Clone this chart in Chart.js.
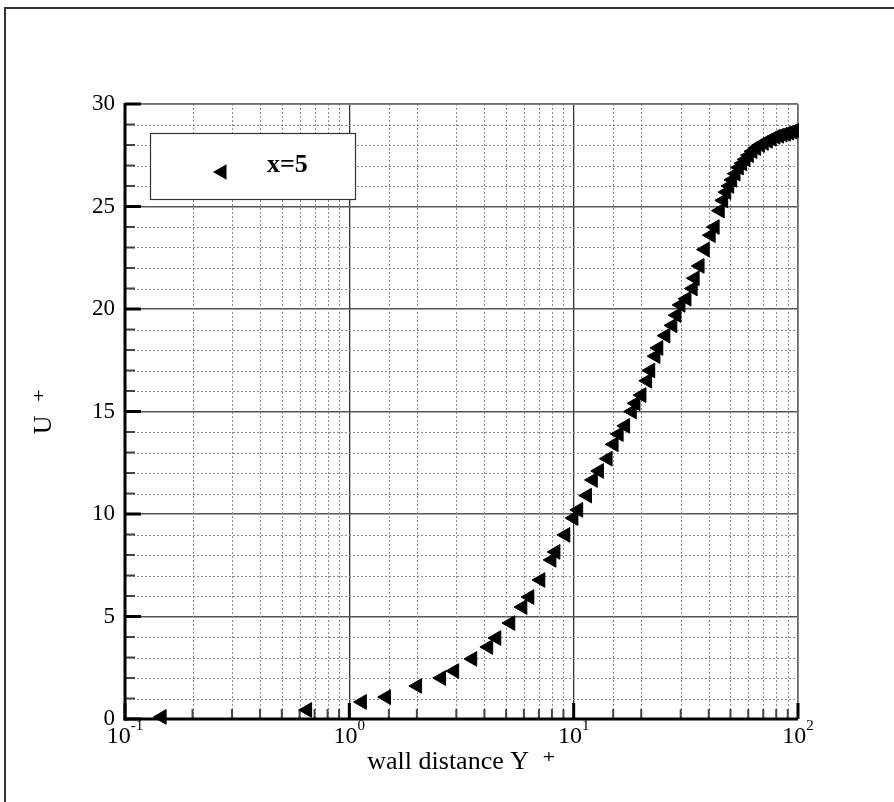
<!DOCTYPE html>
<html><head><meta charset="utf-8">
<script src="https://cdn.jsdelivr.net/npm/chart.js@4/dist/chart.umd.min.js"></script>
<style>html,body{margin:0;padding:0;background:#fff}canvas{display:block}</style>
</head><body>
<canvas id="c" width="894" height="802"></canvas>
<script>
// ---- data ----
const seriesLabel = 'x=5';
const yPlus = [0.146, 0.65, 1.14, 1.46, 2.01, 2.57, 2.94, 3.54, 4.17, 4.53, 5.23, 5.92, 6.36, 7.12, 7.98, 8.31, 9.2, 10.0,
  10.5, 11.5, 12.2, 13.0, 14.2, 15.1, 15.9, 17.0, 18.2, 18.9, 20.1, 21.3, 22.0, 23.2, 23.9,
  25.7, 27.6, 28.8, 30.0, 31.9, 34.0, 34.7, 36.5, 38.5, 40.9, 42.6, 44.9,
  46.5, 48.0, 49.5, 51.0, 52.8, 54.6, 56.5, 58.5, 60.5, 62.8, 65.2, 67.8, 70.5, 73.5, 76.5, 79.5, 82.5, 85.5, 88.5, 91.5, 94.5, 97.0, 99.5];
const uPlus = [0.1, 0.44, 0.83, 1.07, 1.61, 2.0, 2.34, 2.93, 3.51, 3.95, 4.68, 5.46, 5.95, 6.78, 7.76, 8.15, 8.98, 9.8,
  10.2, 10.9, 11.66, 12.1, 12.7, 13.4, 13.9, 14.3, 15.0, 15.4, 15.8, 16.5, 17.0, 17.7, 18.1,
  18.7, 19.2, 19.7, 20.2, 20.5, 21.0, 21.5, 22.1, 22.9, 23.6, 24.0, 24.8,
  25.3, 25.7, 26.0, 26.3, 26.6, 26.9, 27.1, 27.3, 27.5, 27.7, 27.85, 28.0, 28.1, 28.2, 28.3, 28.4, 28.45, 28.5, 28.55, 28.6, 28.65, 28.7, 28.7];
const xMajorTicks = [0.1, 1, 10, 100];
const xTickBase = '10';
const xTickExponents = ['-1', '0', '1', '2'];
const yMajorStep = 5;
const xTitle = 'wall distance Y  \u207A';
const yTitle = 'U  \u207A';

// ---- styling ----
const SERIF = "'Liberation Serif', 'Times New Roman', 'DejaVu Serif', serif";
const isMajorX = v => xMajorTicks.some(m => Math.abs(v - m) / m < 1e-6);
const isMajorY = v => Math.abs(v % yMajorStep) < 1e-9;

function seg(ctx, x1, y1, x2, y2) { ctx.beginPath(); ctx.moveTo(x1, y1); ctx.lineTo(x2, y2); ctx.stroke(); }

const tecplotDecor = {
  id: 'tecplotDecor',
  beforeDraw(chart) {
    const ctx = chart.ctx;
    ctx.save();
    ctx.fillStyle = '#fff';
    ctx.fillRect(0, 0, chart.width, chart.height);
    ctx.strokeStyle = '#333';
    ctx.lineWidth = 2;
    ctx.beginPath(); ctx.moveTo(5, chart.height + 5); ctx.lineTo(5, 8); ctx.lineTo(chart.width + 5, 8); ctx.stroke();
    ctx.restore();
  },
  beforeDatasetsDraw(chart) {
    const {ctx, chartArea: a, scales: {x, y}} = chart;
    ctx.save();
    // minor dotted grid
    ctx.strokeStyle = '#8c8c8c'; ctx.lineWidth = 1; ctx.setLineDash([2, 2]);
    x.ticks.forEach(t => { if (!isMajorX(t.value)) { const p = Math.round(x.getPixelForValue(t.value)) + 0.5; seg(ctx, p, a.top, p, a.bottom); } });
    y.ticks.forEach(t => { if (!isMajorY(t.value)) { const p = Math.round(y.getPixelForValue(t.value)) + 0.5; seg(ctx, a.left, p, a.right, p); } });
    ctx.setLineDash([]);
    // top and right frame
    ctx.strokeStyle = '#777'; ctx.lineWidth = 1.5;
    seg(ctx, a.left, a.top, a.right, a.top);
    seg(ctx, a.right, a.top, a.right, a.bottom);
    // minor ticks
    ctx.strokeStyle = '#444'; ctx.lineWidth = 2;
    x.ticks.forEach(t => { if (!isMajorX(t.value)) { const p = x.getPixelForValue(t.value); seg(ctx, p, a.bottom, p, a.bottom - 10); } });
    y.ticks.forEach(t => { if (!isMajorY(t.value)) { const p = y.getPixelForValue(t.value); seg(ctx, a.left, p, a.left + 10, p); } });
    // major ticks
    ctx.strokeStyle = '#000'; ctx.lineWidth = 3;
    x.ticks.forEach(t => { if (isMajorX(t.value)) { const p = x.getPixelForValue(t.value); seg(ctx, p, a.bottom, p, a.bottom - 16); } });
    y.ticks.forEach(t => { if (isMajorY(t.value)) { const p = y.getPixelForValue(t.value); seg(ctx, a.left, p, a.left + 16, p); } });
    // axes
    ctx.lineWidth = 3;
    seg(ctx, a.left, a.top - 1, a.left, a.bottom + 1.5);
    seg(ctx, a.left - 1.5, a.bottom, a.right, a.bottom);
    ctx.restore();
  },
  afterDatasetsDraw(chart) {
    const {ctx, chartArea: a, scales: {x}} = chart;
    ctx.save();
    // x tick labels with superscript exponents
    ctx.fillStyle = '#000';
    ctx.textBaseline = 'alphabetic';
    ctx.textAlign = 'left';
    xMajorTicks.forEach((v, i) => {
      const p = x.getPixelForValue(v);
      ctx.font = '24px ' + SERIF;
      const wb = ctx.measureText(xTickBase).width;
      ctx.font = '15px ' + SERIF;
      const we = ctx.measureText(xTickExponents[i]).width;
      const start = p - (wb + we) / 2;
      ctx.font = '24px ' + SERIF;
      ctx.fillText(xTickBase, start, a.bottom + 24);
      ctx.font = '15px ' + SERIF;
      ctx.fillText(xTickExponents[i], start + wb, a.bottom + 11);
    });
    // legend box
    const bx = a.left + 25, by = a.top + 29, bw = 205, bh = 66;
    ctx.fillStyle = '#fff';
    ctx.fillRect(bx, by, bw, bh);
    ctx.strokeStyle = '#333'; ctx.lineWidth = 1.2;
    ctx.strokeRect(bx + 0.5, by + 0.5, bw, bh);
    // legend marker (left-pointing triangle)
    const mx = bx + 72, my = by + 39, r = 9;
    ctx.fillStyle = '#000';
    ctx.beginPath();
    ctx.moveTo(mx - r, my);
    ctx.lineTo(mx + r / 2, my - r * 0.866);
    ctx.lineTo(mx + r / 2, my + r * 0.866);
    ctx.closePath(); ctx.fill();
    ctx.font = 'bold 26px ' + SERIF;
    ctx.fillText(chart.data.datasets[0].label, bx + 117, my);
    ctx.restore();
  }
};

const points = yPlus.map((v, i) => ({x: v, y: uPlus[i]}));

new Chart(document.getElementById('c'), {
  type: 'scatter',
  data: {
    datasets: [{
      label: seriesLabel,
      data: points,
      pointStyle: 'triangle',
      rotation: 270,
      pointRadius: 8.5,
      pointHoverRadius: 8.5,
      backgroundColor: '#000',
      borderColor: '#000',
      borderWidth: 1,
      clip: {left: 10, top: 10, right: 1, bottom: 10}
    }]
  },
  options: {
    responsive: false,
    animation: false,
    devicePixelRatio: 1,
    layout: {padding: {left: 0, right: 96, top: 104, bottom: 0}},
    plugins: {legend: {display: false}, tooltip: {enabled: false}},
    scales: {
      x: {
        type: 'logarithmic',
        min: 0.1, max: 100,
        afterFit: s => { s.height = 83; },
        ticks: {display: false, autoSkip: false},
        grid: {
          drawTicks: false,
          color: c => (c.tick && isMajorX(c.tick.value)) ? '#333' : 'rgba(0,0,0,0)',
          lineWidth: 1.3
        },
        border: {display: false},
        title: {display: true, text: xTitle, color: '#000', font: {family: SERIF, size: 26}, padding: {top: 0, bottom: 24}}
      },
      y: {
        type: 'linear',
        min: 0, max: 30,
        afterFit: s => { s.width = 125; },
        ticks: {
          stepSize: 1, autoSkip: false, padding: 10, color: '#000',
          font: {family: SERIF, size: 23},
          callback: v => isMajorY(v) ? String(v) : ''
        },
        grid: {
          drawTicks: false,
          color: c => (c.tick && isMajorY(c.tick.value)) ? '#555' : 'rgba(0,0,0,0)',
          lineWidth: 1.6
        },
        border: {display: false},
        title: {display: true, text: yTitle, color: '#000', font: {family: SERIF, size: 26}, padding: {top: 29, bottom: 0}}
      }
    }
  },
  plugins: [tecplotDecor]
});
</script>
</body></html>
